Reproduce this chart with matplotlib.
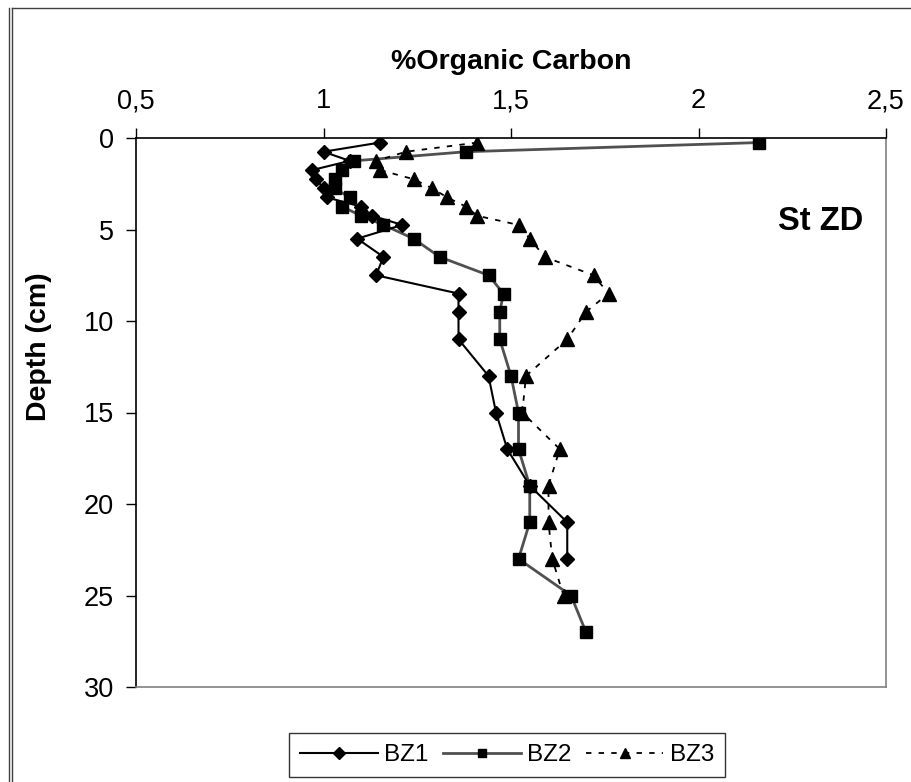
import matplotlib
matplotlib.use('Agg')
from matplotlib import pyplot as plt
from matplotlib.lines import Line2D


# depth (cm) and % organic carbon for each core
depth_bz1 = [0.25, 0.75, 1.25, 1.75, 2.25, 2.75, 3.25, 3.75, 4.25, 4.75,
             5.5, 6.5, 7.5, 8.5, 9.5, 11, 13, 15, 17, 19, 21, 23]
oc_bz1 = [1.15, 1.00, 1.07, 0.97, 0.98, 1.00, 1.01, 1.10, 1.13, 1.21,
          1.09, 1.16, 1.14, 1.36, 1.36, 1.36, 1.44, 1.46, 1.49, 1.55, 1.65, 1.65]

depth_bz2 = [0.25, 0.75, 1.25, 1.75, 2.25, 2.75, 3.25, 3.75, 4.25, 4.75,
             5.5, 6.5, 7.5, 8.5, 9.5, 11, 13, 15, 17, 19, 21, 23, 25, 27]
oc_bz2 = [2.16, 1.38, 1.08, 1.05, 1.03, 1.03, 1.07, 1.05, 1.10, 1.16,
          1.24, 1.31, 1.44, 1.48, 1.47, 1.47, 1.50, 1.52, 1.52, 1.55, 1.55, 1.52, 1.66, 1.70]

depth_bz3 = [0.25, 0.75, 1.25, 1.75, 2.25, 2.75, 3.25, 3.75, 4.25, 4.75,
             5.5, 6.5, 7.5, 8.5, 9.5, 11, 13, 15, 17, 19, 21, 23, 25]
oc_bz3 = [1.41, 1.22, 1.14, 1.15, 1.24, 1.29, 1.33, 1.38, 1.41, 1.52,
          1.55, 1.59, 1.72, 1.76, 1.70, 1.65, 1.54, 1.53, 1.63, 1.60, 1.60, 1.61, 1.64]

x_ticks = [0.5, 1, 1.5, 2, 2.5]
x_tick_labels = ['0,5', '1', '1,5', '2', '2,5']
y_ticks = [0, 5, 10, 15, 20, 25, 30]

plt.rcParams['font.family'] = ['Liberation Sans', 'DejaVu Sans']

fig = plt.figure(figsize=(9.11, 7.82), dpi=100)
ax = fig.add_axes([136 / 911, 1 - 687 / 782, 750 / 911, 549 / 782])

ax.plot(oc_bz1, depth_bz1, color='black', lw=1.5, marker='D', ms=7.5,
        label='BZ1', zorder=3)
ax.plot(oc_bz2, depth_bz2, color='#505050', lw=2.0, marker='s', ms=8.5,
        mfc='black', mec='black', label='BZ2', zorder=2)
ax.plot(oc_bz3, depth_bz3, color='black', lw=1.3, ls=(0, (3, 4)), marker='^',
        ms=10, label='BZ3', zorder=2)

ax.set_xlim(0.5, 2.5)
ax.set_ylim(30, 0)
ax.xaxis.tick_top()
ax.xaxis.set_label_position('top')
ax.set_xticks(x_ticks)
ax.set_xticklabels(x_tick_labels)
ax.set_yticks(y_ticks)
ax.tick_params(axis='both', which='both', direction='out', length=7,
               labelsize=19.5, width=1)
ax.tick_params(axis='x', pad=10)
ax.tick_params(axis='y', pad=9)

ax.set_xlabel('%Organic Carbon', fontsize=20.5, fontweight='bold', labelpad=14)
ax.set_ylabel('Depth (cm)', fontsize=20.5, fontweight='bold')
ax.yaxis.set_label_coords(-0.112, 0.62)

ax.spines['top'].set_color('black')
ax.spines['left'].set_color('black')
ax.spines['right'].set_color('#808080')
ax.spines['bottom'].set_color('#808080')
for s in ax.spines.values():
    s.set_linewidth(1.2)

ax.text(0.97, 0.847, 'St ZD', transform=ax.transAxes, fontsize=23.5,
        fontweight='bold', ha='right', va='center')

leg = fig.legend(loc='center', bbox_to_anchor=(507 / 911, 1 - 755 / 782),
                 ncol=3, fontsize=17.5, frameon=True, fancybox=False,
                 handlelength=3.2, handletextpad=0.25, columnspacing=0.6,
                 borderpad=0.45, borderaxespad=0, markerscale=0.75)
leg.get_frame().set_edgecolor('black')
leg.get_frame().set_linewidth(1.0)

# outer frame of the original sheet
fig.add_artist(Line2D([8.5 / 911, 8.5 / 911], [0, 1 - 8 / 782], color='#404040', lw=1))
fig.add_artist(Line2D([12 / 911, 12 / 911], [0, 1 - 7.5 / 782], color='#404040', lw=1))
fig.add_artist(Line2D([12 / 911, 1], [1 - 7.5 / 782, 1 - 7.5 / 782], color='#404040', lw=1))

fig.savefig('out.png', dpi=100)
